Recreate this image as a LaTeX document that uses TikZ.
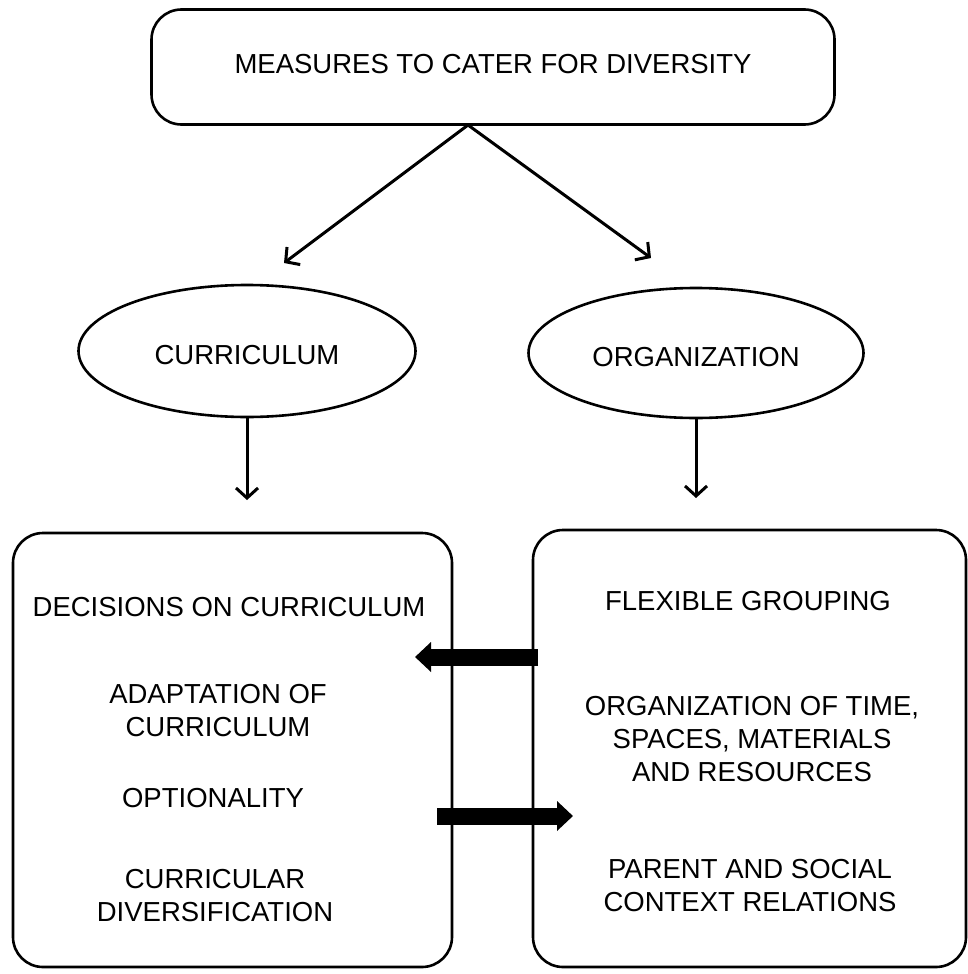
\documentclass[tikz,border=0pt]{standalone}
\usepackage{fontspec}
\setmainfont{Liberation Sans}
\usetikzlibrary{shapes.geometric,arrows.meta}
\begin{document}
\begin{tikzpicture}[x=1pt, y=-1pt, line width=2.6pt,
    box/.style={rectangle, rounded corners=30pt, draw},
    oval/.style={ellipse, draw, inner sep=0pt, text height=27.7pt, text depth=0pt, font=\fontsize{27.5}{33}\selectfont},
    txt/.style={anchor=north, inner sep=0pt, align=center, font=\fontsize{27.5}{33}\selectfont},
    link/.style={-{Straight Barb[length=10pt,width=22pt]}, line width=3pt},
    bigarrow/.style={line width=17pt, -{Triangle[length=16pt,width=29pt]}}]
\useasboundingbox (0,0) rectangle (968,974);

\node[box, minimum width=683pt, minimum height=115pt, text depth=7pt, font=\fontsize{27.5}{33}\selectfont] (M) at (493,67) {MEASURES TO CATER FOR DIVERSITY};
\node[oval, minimum width=337pt, minimum height=132pt] (C) at (247,351) {CURRICULUM};
\node[oval, minimum width=335pt, minimum height=130pt] (O) at (696,353) {ORGANIZATION};
\node[box, minimum width=439pt, minimum height=434pt] (L) at (232.5,750) {};
\node[box, minimum width=433pt, minimum height=437pt] (R) at (749.5,748.5) {};

% left box
\node[txt] (L1) at (229,596) {DECISIONS ON CURRICULUM};
\node[txt] (L2) at (218,683) {ADAPTATION OF\\CURRICULUM};
\node[txt] (L3) at (213,787) {OPTIONALITY};
\node[txt] (L4) at (215,868) {CURRICULAR\\DIVERSIFICATION};
% right box
\node[txt] (R1) at (748,590) {FLEXIBLE GROUPING};
\node[txt] (R2) at (752,695) {ORGANIZATION OF TIME,\\SPACES, MATERIALS\\AND RESOURCES};
\node[txt] (R3) at (750,858) {PARENT AND SOCIAL\\CONTEXT RELATIONS};

\coordinate (V) at (468,125);
\coordinate (t1) at (284,263);
\coordinate (t2) at (651,258);
\coordinate (d1) at (247,500);
\coordinate (d2) at (696,498);
\coordinate (a1) at (538,657);
\coordinate (a2) at (415,657);
\coordinate (b1) at (437,816);
\coordinate (b2) at (573,816);

\draw[link] (V) -- (t1);
\draw[link] (V) -- (t2);
\draw[link] (C) -- (d1);
\draw[link] (O) -- (d2);
\draw[bigarrow] (a1) -- (a2);
\draw[bigarrow] (b1) -- (b2);
\end{tikzpicture}
\end{document}
